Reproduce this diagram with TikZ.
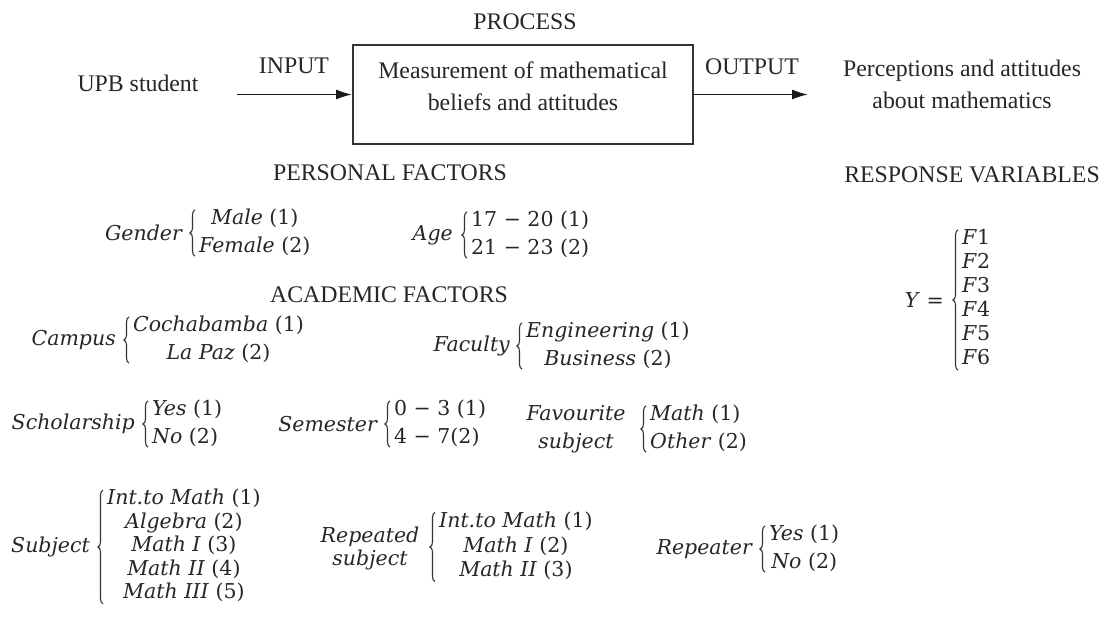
\documentclass[tikz,border=0pt]{standalone}
\usepackage{fontspec}
\setmainfont{Liberation Serif}
\newfontfamily\vf{DejaVu Serif}
\usetikzlibrary{arrows.meta,decorations.pathreplacing}
\newcommand{\opts}[2]{\begin{tabular}{@{}#1@{}}#2\end{tabular}}
\newcommand{\brc}[2][5pt]{\draw[brc] ([xshift=-4pt,yshift=#1]#2.south west) -- ([xshift=-4pt,yshift=-#1]#2.north west);}
\tikzset{
  rm/.style={font=\fontsize{23.8}{32}\selectfont, inner sep=0pt, text=black!85, align=center},
  lab/.style={font=\vf\itshape\fontsize{20.5}{28}\selectfont, inner sep=0pt, anchor=east, align=center, text=black!85},
  grp/.style={font=\vf\fontsize{20.5}{28}\selectfont, inner sep=0pt, anchor=west, text=black!85},
  arr/.style={-{Latex[length=16pt,width=10pt]}, line width=1.6pt, black!90},
  procbox/.style={draw=black!80, line width=1.8pt, minimum width=340pt, minimum height=99pt, inner sep=0pt},
  brc/.style={decorate, decoration={brace, amplitude=5pt}, line width=1.1pt, black!80},
}
\begin{document}
\begin{tikzpicture}[x=1pt,y=-1pt]
\useasboundingbox (0,0) rectangle (1109,617);
% top row
\node[rm] (process) at (525,22) {PROCESS};
\node[procbox] (box) at (523,94.5) {};
\node[rm] (boxtext) at (523,86) {Measurement of mathematical\\beliefs and attitudes};
\node[rm] (upb) at (138,83) {UPB student};
\node[rm] (input) at (294,66) {INPUT};
\node[rm] (output) at (752,67) {OUTPUT};
\node[rm] (percep) at (962,84) {Perceptions and attitudes\\about mathematics};
\coordinate (instart) at (237,94.5);
\coordinate (outend) at (808,94.5);
\draw[arr] (instart) -- (box.west);
\draw[arr] (box.east) -- (outend);
% headings
\node[rm] (personal) at (390,173) {PERSONAL FACTORS};
\node[rm] (academic) at (389,295) {ACADEMIC FACTORS};
\node[rm] (response) at (972,175) {RESPONSE VARIABLES};
% personal factors
\node[lab] (gender) at (182,233) {Gender};
\node[grp] (gendero) at (199,233) {\opts{c}{\textit{Male} (1)\\\textit{Female} (2)}};
\brc{gendero}
\node[lab] (age) at (453,235) {Age};
\node[grp] (ageo) at (471,235) {\opts{l}{17 − 20 (1)\\21 − 23 (2)}};
\brc{ageo}
% academic factors
\node[lab] (campus) at (116,340) {Campus};
\node[grp] (campuso) at (133,340) {\opts{c}{\textit{Cochabamba} (1)\\\textit{La Paz} (2)}};
\brc{campuso}
\node[lab] (faculty) at (510,346) {Faculty};
\node[grp] (facultyo) at (526,346) {\opts{c}{\textit{Engineering} (1)\\\textit{Business} (2)}};
\brc{facultyo}
\node[lab] (schol) at (135,424) {Scholarship};
\node[grp] (scholo) at (152,424) {\opts{l}{\textit{Yes} (1)\\\textit{No} (2)}};
\brc{scholo}
\node[lab] (semester) at (377,424) {Semester};
\node[grp] (semestero) at (394,424) {\opts{l}{0 − 3 (1)\\4 − 7(2)}};
\brc{semestero}
\node[lab, anchor=center] (favourite) at (576,429) {Favourite\\subject};
\node[grp] (favouriteo) at (650,429) {\opts{l}{\textit{Math} (1)\\\textit{Other} (2)}};
\brc{favouriteo}
\node[lab] (subject) at (90,547) {Subject};
\node[grp, font=\vf\fontsize{20.5}{23.5}\selectfont] (subjecto) at (107,547) {\opts{c}{\textit{Int.to Math} (1)\\\textit{Algebra} (2)\\\textit{Math I} (3)\\\textit{Math II} (4)\\\textit{Math III} (5)}};
\brc[2pt]{subjecto}
\node[lab, anchor=center, font=\vf\itshape\fontsize{20.5}{23}\selectfont] (repeated) at (370,548) {Repeated\\subject};
\node[grp, font=\vf\fontsize{20.5}{25}\selectfont] (repeatedo) at (439,547) {\opts{c}{\textit{Int.to Math} (1)\\\textit{Math I} (2)\\\textit{Math II} (3)}};
\brc[3pt]{repeatedo}
\node[lab] (repeater) at (752,549) {Repeater};
\node[grp] (repeatero) at (769,549) {\opts{c}{\textit{Yes} (1)\\\textit{No} (2)}};
\brc{repeatero}
% response variables
\node[lab] (ylab) at (944,300) {Y \textup{=}};
\node[grp, font=\vf\fontsize{20.5}{24}\selectfont] (yo) at (962,300) {\opts{l}{\textit{F}1\\\textit{F}2\\\textit{F}3\\\textit{F}4\\\textit{F}5\\\textit{F}6}};
\brc[2pt]{yo}
\end{tikzpicture}
\end{document}
